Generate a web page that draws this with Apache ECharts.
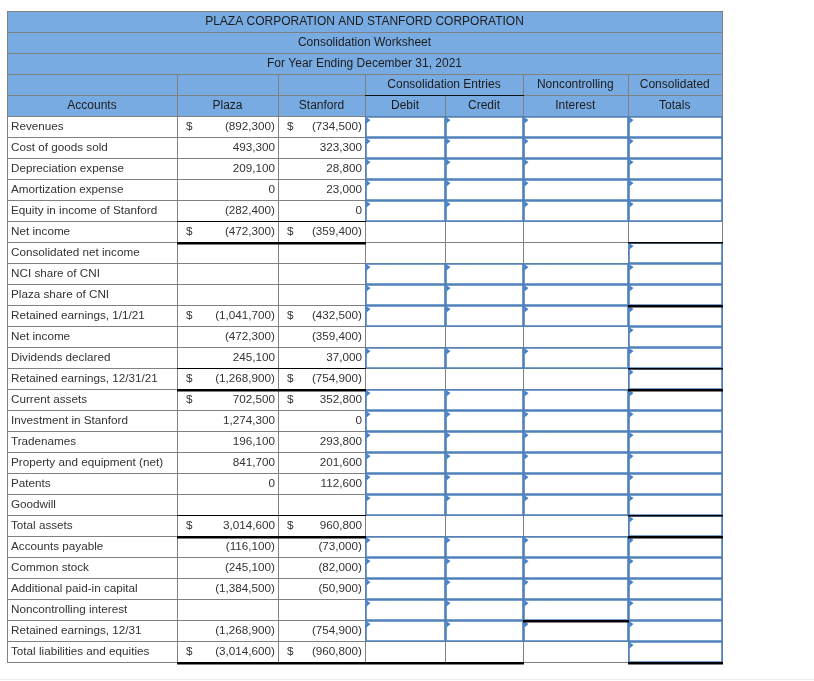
<!DOCTYPE html>
<html><head><meta charset="utf-8">
<script src="https://cdn.jsdelivr.net/npm/echarts@6/dist/echarts.min.js"></script>
<style>html,body{margin:0;padding:0;background:#fff}#c{width:814px;height:681px}</style>
</head><body><div id="c"></div><script>
// ---------------- data ----------------
const titleLines = ['PLAZA CORPORATION AND STANFORD CORPORATION', 'Consolidation Worksheet', 'For Year Ending December 31, 2021'];
const groupHeaders = ['', '', '', 'Consolidation Entries', '', 'Noncontrolling', 'Consolidated'];
const columnHeaders = ['Accounts', 'Plaza', 'Stanford', 'Debit', 'Credit', 'Interest', 'Totals'];
const accounts = ['Revenues', 'Cost of goods sold', 'Depreciation expense', 'Amortization expense',
  'Equity in income of Stanford', 'Net income', 'Consolidated net income', 'NCI share of CNI',
  'Plaza share of CNI', 'Retained earnings, 1/1/21', 'Net income', 'Dividends declared',
  'Retained earnings, 12/31/21', 'Current assets', 'Investment in Stanford', 'Tradenames',
  'Property and equipment (net)', 'Patents', 'Goodwill', 'Total assets', 'Accounts payable',
  'Common stock', 'Additional paid-in capital', 'Noncontrolling interest', 'Retained earnings, 12/31',
  'Total liabilities and equities'];
const plaza = [-892300, 493300, 209100, 0, -282400, -472300, null, null, null, -1041700, -472300, 245100,
  -1268900, 702500, 1274300, 196100, 841700, 0, null, 3014600, -116100, -245100, -1384500, null, -1268900, -3014600];
const stanford = [-734500, 323300, 28800, 23000, 0, -359400, null, null, null, -432500, -359400, 37000,
  -754900, 352800, 0, 293800, 201600, 112600, null, 960800, -73000, -82000, -50900, null, -754900, -960800];
const dollarRows = [0, 5, 9, 12, 13, 19, 25];
// which of Debit(D) / Credit(C) / NCI(N) / Totals(T) are entry cells in each row
const entryCells = ['DCNT', 'DCNT', 'DCNT', 'DCNT', 'DCNT', '', 'T', 'DCNT', 'DCNT', 'DCNT', 'T', 'DCNT', 'T',
  'DCNT', 'DCNT', 'DCNT', 'DCNT', 'DCNT', 'DCNT', 'T', 'DCNT', 'DCNT', 'DCNT', 'DCNT', 'DCNT', 'T'];

// ---------------- layout / style ----------------
const FONT = '"Liberation Sans", Arial, Helvetica, sans-serif';
const FS = 11.7;
const FS_HEAD = 12;
const HEADER_FILL = '#79ABE3';
const GRID = '#808080';
const BLUE = '#4F81BD';
const FLAG = '#3F7FCC';
const COL_EDGES = [0, 170, 271, 358, 438, 516, 620.5, 715];
const NHEAD = 5;
const NROWS = NHEAD + accounts.length;
const ENTRY_COL = { D: 3, C: 4, N: 5, T: 6 };
// black underline rules: [dataRow, firstCol, lastCol, width]
const RULES = [
  [4, 1, 2, 1], [5, 1, 2, 2.5], [5, 6, 6, 1.5], [8, 6, 6, 2.5],
  [11, 1, 2, 1], [11, 6, 6, 1.5], [12, 1, 2, 2.5], [12, 6, 6, 2.5],
  [18, 1, 2, 1], [18, 6, 6, 1.5], [19, 1, 2, 2.5], [19, 6, 6, 2.5],
  [23, 5, 5, 2.5], [25, 1, 4, 2.5], [25, 6, 6, 2.5]
];

function fmt(v) {
  if (v === null || v === undefined) return '';
  const s = Math.abs(v).toLocaleString('en-US');
  return v < 0 ? '(' + s + ')' : s;
}
function hl(x1, x2, y, color, w, z2) {
  const yy = Math.round(y) + w / 2;
  return { type: 'line', z2: z2 || 1, shape: { x1: Math.round(x1), y1: yy, x2: Math.round(x2) + 1, y2: yy },
    style: { stroke: color, lineWidth: w, fill: null } };
}
function vl(x, y1, y2, color) {
  const xx = Math.round(x) + 0.5;
  return { type: 'line', z2: 1, shape: { x1: xx, y1: Math.round(y1), x2: xx, y2: Math.round(y2) + 1 },
    style: { stroke: color, lineWidth: 1, fill: null } };
}
function txt(s, x, y, align, head) {
  return { type: 'text', z2: 20, style: { text: s, x: x, y: y, align: align, verticalAlign: 'middle',
    fontSize: head ? FS_HEAD : FS, fontFamily: FONT, fill: head ? '#1c1c1c' : '#333333' } };
}

function renderItem(params, api) {
  const r = api.value(1);
  const y0 = api.coord([0, r])[1];
  const y1 = api.coord([0, r + 1])[1];
  const X = COL_EDGES.map(e => api.coord([e, r])[0]);
  const ym = (y0 + y1) / 2;
  const ch = [];
  if (r < NHEAD) {
    ch.push({ type: 'rect', z2: 0, shape: { x: Math.round(X[0]), y: Math.round(y0), width: Math.round(X[7]) - Math.round(X[0]) + 1, height: Math.round(y1) - Math.round(y0) },
      style: { fill: HEADER_FILL } });
    if (r === 0) ch.push(hl(X[0], X[7], y0, GRID, 1));
    ch.push(hl(X[0], X[7], y1, GRID, 1));
    ch.push(vl(X[0], y0, y1, GRID));
    ch.push(vl(X[7], y0, y1, GRID));
    if (r < 3) {
      ch.push(txt(titleLines[r], (X[0] + X[7]) / 2, ym, 'center', true));
    } else if (r === 3) {
      [1, 2, 3, 5, 6].forEach(c => ch.push(vl(X[c], y0, y1, GRID)));
      ch.push(txt(groupHeaders[3], (X[3] + X[5]) / 2, ym, 'center', true));
      ch.push(txt(groupHeaders[5], (X[5] + X[6]) / 2, ym, 'center', true));
      ch.push(txt(groupHeaders[6], (X[6] + X[7]) / 2, ym, 'center', true));
    } else {
      [1, 2, 3, 4, 5, 6].forEach(c => ch.push(vl(X[c], y0, y1, GRID)));
      ch.push(hl(X[3], X[5], y0, '#111111', 1, 10));
      for (let c = 0; c < 7; c++) ch.push(txt(columnHeaders[c], (X[c] + X[c + 1]) / 2, ym, 'center', true));
    }
  } else {
    const i = r - NHEAD;
    ch.push(hl(X[0], X[7], y1, GRID, 1));
    for (let c = 0; c <= 7; c++) ch.push(vl(X[c], y0, y1, GRID));
    // entry cells
    entryCells[i].split('').forEach(k => {
      const c = ENTRY_COL[k];
      const L = Math.round(X[c]), R = Math.round(X[c + 1]), T = Math.round(y0), B = Math.round(y1);
      ch.push({ type: 'rect', z2: 5, shape: { x: L + 1, y: T + 1, width: R - L - 1, height: B - T - 1 },
        style: { fill: '#ffffff', stroke: BLUE, lineWidth: 1.6 } });
      ch.push({ type: 'polygon', z2: 6, shape: { points: [[L + 1.5, T + 1.5], [L + 1.5, T + 7.5], [L + 5.5, T + 4]] },
        style: { fill: FLAG } });
    });
    // rules
    RULES.filter(q => q[0] === i).forEach(q => {
      ch.push(hl(X[q[1]], X[q[2] + 1], y1, '#000000', q[3], 12));
    });
    ch.push(txt(accounts[i], X[0] + 4, ym, 'left'));
    if (plaza[i] !== null) ch.push(txt(fmt(plaza[i]), X[2] - 3, ym, 'right'));
    if (stanford[i] !== null) ch.push(txt(fmt(stanford[i]), X[3] - 3, ym, 'right'));
    if (dollarRows.indexOf(i) >= 0) {
      ch.push(txt('$', X[1] + 9, ym, 'left'));
      ch.push(txt('$', X[2] + 9, ym, 'left'));
    }
  }
  return { type: 'group', children: ch };
}

const rowData = [];
for (let r = 0; r < NROWS; r++) rowData.push([0, r]);

const chart = echarts.init(document.getElementById('c'), null, { renderer: 'canvas' });
chart.setOption({
  backgroundColor: '#ffffff',
  animation: false,
  grid: { left: 7, top: 11, width: 715, height: 651, containLabel: false },
  xAxis: { type: 'value', min: 0, max: 715, show: false },
  yAxis: { type: 'value', min: 0, max: NROWS, inverse: true, show: false },
  graphic: [{ type: 'line', shape: { x1: 0, y1: 679.5, x2: 814, y2: 679.5 }, style: { stroke: '#ececec', lineWidth: 1 }, silent: true }],
  series: [{
    type: 'custom',
    coordinateSystem: 'cartesian2d',
    silent: true,
    clip: false,
    renderItem: renderItem,
    data: rowData
  }]
});
</script></body></html>
